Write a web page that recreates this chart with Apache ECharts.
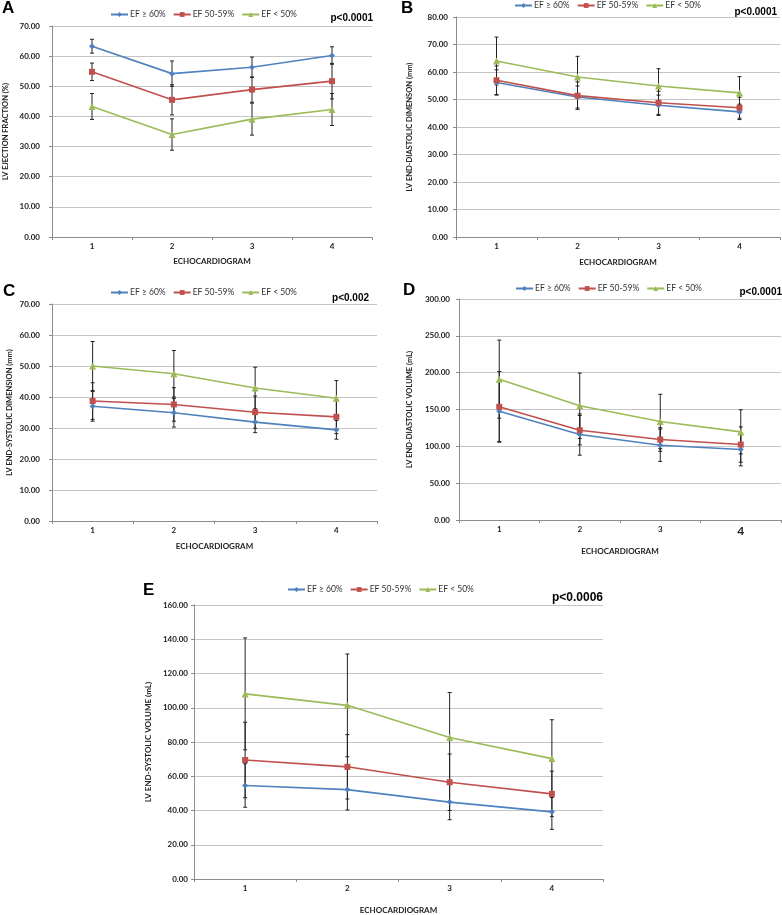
<!DOCTYPE html>
<html><head><meta charset="utf-8">
<script src="https://cdn.jsdelivr.net/npm/echarts@6/dist/echarts.min.js"></script>
<style>html,body{margin:0;padding:0;background:#fff}#c{width:782px;height:915px}</style>
</head><body><div id="c"></div>
<script>
const categories = ['1','2','3','4'];
const seriesNames = ['EF ≥ 60%','EF 50-59%','EF < 50%'];

// Panel A: LV ejection fraction (%)
const A_ge60 = [63.3, 54.2, 56.3, 60.2];
const A_ge60_sd = [2.3, 4.2, 3.4, 2.9];
const A_50_59 = [54.8, 45.5, 48.9, 51.7];
const A_50_59_sd = [2.9, 5.0, 4.2, 5.9];
const A_lt50 = [43.3, 34.0, 39.1, 42.3];
const A_lt50_sd = [4.3, 5.2, 5.3, 5.3];

// Panel B: LV end-diastolic dimension (mm)
const B_ge60 = [56.2, 50.9, 47.9, 45.5];
const B_ge60_sd = [4.6, 4.0, 3.7, 2.8];
const B_50_59 = [57.0, 51.4, 48.8, 47.0];
const B_50_59_sd = [5.2, 5.0, 4.2, 3.8];
const B_lt50 = [64.0, 58.2, 54.9, 52.4];
const B_lt50_sd = [8.7, 7.5, 6.3, 5.9];

// Panel C: LV end-systolic dimension (mm)
const C_ge60 = [37.0, 34.9, 31.9, 29.4];
const C_ge60_sd = [4.8, 4.6, 3.4, 3.0];
const C_50_59 = [38.7, 37.6, 35.1, 33.6];
const C_50_59_sd = [5.9, 5.4, 5.2, 5.4];
const C_lt50 = [50.0, 47.5, 42.9, 39.6];
const C_lt50_sd = [7.9, 7.5, 6.7, 5.7];

// Panel D: LV end-diastolic volume (mL)
const D_ge60 = [147.7, 116.0, 101.5, 95.6];
const D_ge60_sd = [41, 28, 22, 22];
const D_50_59 = [153.6, 121.9, 109.2, 102.4];
const D_50_59_sd = [48, 20, 16, 24];
const D_lt50 = [191.2, 155.0, 133.7, 119.6];
const D_lt50_sd = [53, 44.4, 37, 30];

// Panel E: LV end-systolic volume (mL)
const E_ge60 = [54.6, 52.2, 44.9, 39.2];
const E_ge60_sd = [12.7, 11.9, 10.3, 10.2];
const E_50_59 = [69.5, 65.5, 56.5, 49.7];
const E_50_59_sd = [22, 18.8, 16.5, 13.3];
const E_lt50 = [108.1, 101.4, 82.6, 70.3];
const E_lt50_sd = [32.7, 30, 26.3, 22.7];

const yMaxes = [70, 80, 70, 300, 160];
const yIntervals = [10, 10, 10, 50, 20];
const yTitles = ['LV EJECTION FRACTION (%)', 'LV END-DIASTOLIC DIMENSON (mm)', 'LV END-SYSTOLIC DIMENSION (mm)', 'LV END-DIASTOLIC VOLUME (mL)', 'LV END-SYSTOLIC VOLUME (mL)'];
const xTitle = 'ECHOCARDIOGRAM';
const panelLetters = ['A','B','C','D','E'];
const pValues = ['p<0.0001','p<0.0001','p<0.002','p<0.0001','p<0.0006'];

const panelData = [
  [[A_ge60, A_ge60_sd], [A_50_59, A_50_59_sd], [A_lt50, A_lt50_sd]],
  [[B_ge60, B_ge60_sd], [B_50_59, B_50_59_sd], [B_lt50, B_lt50_sd]],
  [[C_ge60, C_ge60_sd], [C_50_59, C_50_59_sd], [C_lt50, C_lt50_sd]],
  [[D_ge60, D_ge60_sd], [D_50_59, D_50_59_sd], [D_lt50, D_lt50_sd]],
  [[E_ge60, E_ge60_sd], [E_50_59, E_50_59_sd], [E_lt50, E_lt50_sd]]
];

// layout (pixels)
const grids = [
  {left: 52, top: 26, width: 320, height: 211},
  {left: 456, top: 17, width: 324, height: 220},
  {left: 52, top: 304, width: 325, height: 217},
  {left: 459, top: 299, width: 322, height: 221},
  {left: 194, top: 605, width: 409, height: 278}
];
const xNameGaps = [20, 21, 21, 27, 27];
const yNameGaps = [42, 42, 38, 45, 38];
const yLabelMargins = [12, 8, 12, 9, 6];
const legendPos = [[110, 10], [514, 1], [110, 288], [515, 284], [287, 585]];
const letterPos = [[2, 0], [401, 0], [3, 283], [403, 282], [143, 582]];
const pPos = [[373, 18, 10], [777, 12, 10], [369, 298, 10], [782, 292, 10], [603, 598, 12]];

const colors = ['#4F81BD', '#C0504D', '#9BBB59'];
const symbols = ['diamond', 'rect', 'triangle'];
const symbolSizes = [6, 6, 7];
const FONT = 'Lato';

const xAxes = [], yAxes = [], series = [], legends = [], graphics = [];

grids.forEach((g, p) => {
  xAxes.push({
    type: 'category', gridIndex: p, data: categories, boundaryGap: true,
    name: xTitle, nameLocation: 'middle', nameGap: xNameGaps[p],
    nameTextStyle: {fontFamily: FONT, fontWeight: 'bold', fontSize: 8, color: '#222'},
    axisLine: {lineStyle: {color: '#8c8c8c', width: 1}},
    axisTick: {show: true, length: 3, lineStyle: {color: '#8c8c8c'}},
    axisLabel: {
      fontFamily: FONT, fontWeight: 'bold', fontSize: 8, color: '#222', margin: 5,
      formatter: (p === 3) ? (v => v === '4' ? '{big|4}' : v) : undefined,
      rich: {big: {fontFamily: FONT, fontWeight: 'bold', fontSize: 12, color: '#222'}}
    },
    splitLine: {show: false}
  });
  yAxes.push({
    type: 'value', gridIndex: p, min: 0, max: yMaxes[p], interval: yIntervals[p],
    name: yTitles[p], nameLocation: 'middle', nameGap: yNameGaps[p], nameRotate: 90,
    nameTextStyle: {fontFamily: FONT, fontWeight: 'bold', fontSize: p === 4 ? 8 : 7.5, color: '#222'},
    axisLine: {show: true, lineStyle: {color: '#8c8c8c', width: 1}},
    axisTick: {show: true, length: 3, lineStyle: {color: '#8c8c8c'}},
    axisLabel: {fontFamily: FONT, fontWeight: 'bold', fontSize: 8, color: '#222', margin: yLabelMargins[p],
      formatter: v => v.toFixed(2)},
    splitLine: {show: true, lineStyle: {color: '#c4c4c4', width: 1}}
  });
  panelData[p].forEach((pair, s) => {
    const means = pair[0], sds = pair[1];
    series.push({
      type: 'custom', name: seriesNames[s] + ' err', xAxisIndex: p, yAxisIndex: p, z: 1,
      silent: true,
      data: means.map((m, i) => [i, m - sds[i], m + sds[i]]),
      renderItem: (params, api) => {
        const lo = api.coord([api.value(0), api.value(1)]);
        const hi = api.coord([api.value(0), api.value(2)]);
        const cw = 2;
        const st = {stroke: '#222', lineWidth: 1};
        return {type: 'group', children: [
          {type: 'line', shape: {x1: lo[0], y1: lo[1], x2: hi[0], y2: hi[1]}, style: st},
          {type: 'line', shape: {x1: lo[0]-cw, y1: lo[1], x2: lo[0]+cw, y2: lo[1]}, style: st},
          {type: 'line', shape: {x1: hi[0]-cw, y1: hi[1], x2: hi[0]+cw, y2: hi[1]}, style: st}
        ]};
      }
    });
    series.push({
      type: 'line', name: seriesNames[s], xAxisIndex: p, yAxisIndex: p, z: 3,
      data: means, color: colors[s], symbol: symbols[s], symbolSize: symbolSizes[s],
      showAllSymbol: true,
      lineStyle: {color: colors[s], width: 1.6},
      itemStyle: {color: colors[s]},
      emphasis: {disabled: true}, animation: false
    });
  });
  legends.push({
    left: legendPos[p][0], top: legendPos[p][1], orient: 'horizontal', padding: 0,
    itemWidth: 17, itemHeight: 6, itemGap: 7, selectedMode: false,
    data: seriesNames,
    textStyle: {fontFamily: FONT, fontSize: 8.5, color: '#333', padding: [0, 0, 0, -3]}
  });
  graphics.push({
    type: 'text', left: letterPos[p][0], top: letterPos[p][1],
    style: {text: panelLetters[p], font: 'bold 17px "Liberation Sans"', fill: '#000'}
  });
  graphics.push({
    type: 'text', x: pPos[p][0], y: pPos[p][1],
    style: {text: pValues[p], font: 'bold ' + pPos[p][2] + 'px "Liberation Sans"', fill: '#000',
      align: 'right', verticalAlign: 'middle'}
  });
});

const chart = echarts.init(document.getElementById('c'), null, {renderer: 'canvas'});
chart.setOption({
  animation: false,
  backgroundColor: '#fff',
  grid: grids,
  xAxis: xAxes,
  yAxis: yAxes,
  legend: legends,
  series: series,
  graphic: graphics
});
</script>
</body></html>
